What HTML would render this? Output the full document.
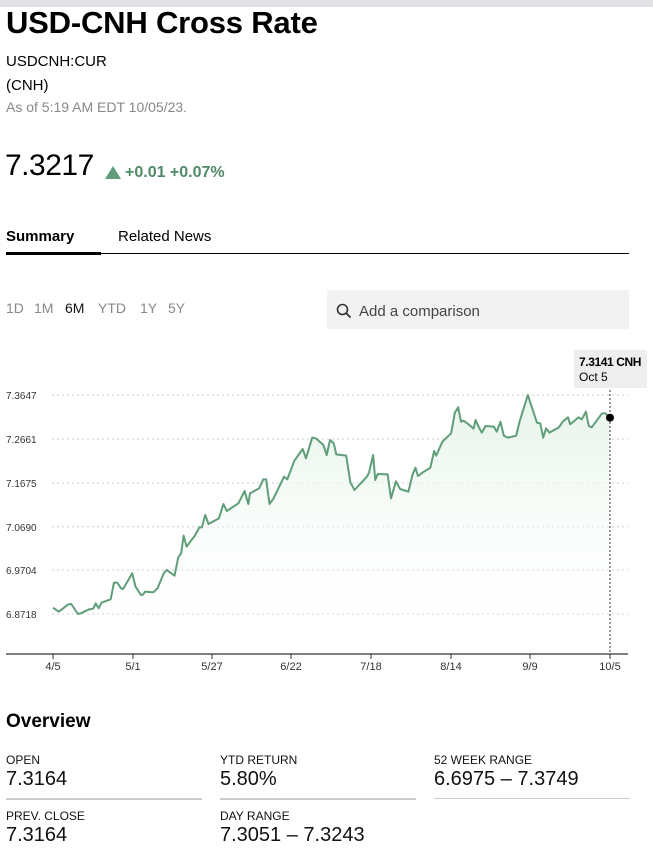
<!DOCTYPE html>
<html><head><meta charset="utf-8"><style>
body{margin:0;width:653px;height:848px;overflow:hidden;background:#fff;font-family:"Liberation Sans",sans-serif;color:#000;position:relative}
.a{position:absolute;white-space:nowrap}
.lab{font-size:12px;color:#111}
.val{font-size:20px;color:#111}
.rule{position:absolute;height:2px;background:#ccc}
</style></head><body>
<div class="a" style="left:0;top:0;width:653px;height:7px;background:#e2e2e6"></div>
<div class="a" style="left:6px;top:5px;font-size:31px;font-weight:bold;letter-spacing:-0.2px">USD-CNH Cross Rate</div>
<div class="a" style="left:6px;top:53px;font-size:15px">USDCNH:CUR</div>
<div class="a" style="left:6px;top:77px;font-size:15px">(CNH)</div>
<div class="a" style="left:6px;top:99px;font-size:14px;color:#888">As of 5:19 AM EDT 10/05/23.</div>
<div class="a" style="left:5px;top:149px;font-size:30px;letter-spacing:-0.5px">7.3217</div>
<div class="a" style="left:105px;top:166px;width:0;height:0;border-left:8px solid transparent;border-right:8px solid transparent;border-bottom:13px solid #5f9e78"></div>
<div class="a" style="left:125px;top:164px;font-size:16px;color:#4f8a66;font-weight:bold">+0.01 +0.07%</div>
<div class="a" style="left:6px;top:228px;font-size:15px;font-weight:bold">Summary</div>
<div class="a" style="left:118px;top:228px;font-size:15px">Related News</div>
<div class="a" style="left:6px;top:253px;width:623px;height:1px;background:#000"></div>
<div class="a" style="left:6px;top:252px;width:95px;height:3px;background:#000"></div>
<div class="a" style="left:6px;top:300px;font-size:14px;color:#888">1D</div>
<div class="a" style="left:34px;top:300px;font-size:14px;color:#888">1M</div>
<div class="a" style="left:65px;top:300px;font-size:14px;color:#111">6M</div>
<div class="a" style="left:98px;top:300px;font-size:14px;color:#888">YTD</div>
<div class="a" style="left:140px;top:300px;font-size:14px;color:#888">1Y</div>
<div class="a" style="left:168px;top:300px;font-size:14px;color:#888">5Y</div>
<div class="a" style="left:327px;top:290px;width:302px;height:39px;background:#f2f2f2"></div>
<svg class="a" style="left:336px;top:303px" width="16" height="16"><circle cx="6.5" cy="6.5" r="5" fill="none" stroke="#333" stroke-width="1.6"/><line x1="10" y1="10" x2="14.5" y2="14.5" stroke="#333" stroke-width="1.8"/></svg>
<div class="a" style="left:359px;top:303px;font-size:15px;color:#444">Add a comparison</div>

<svg class="a" style="left:0;top:340px" width="653" height="340">
<defs><linearGradient id="g" x1="0" y1="0" x2="0" y2="1"><stop offset="0" stop-color="#e6f4ea"/><stop offset="1" stop-color="#ffffff" stop-opacity="0"/></linearGradient></defs>
<g stroke="#ccc" stroke-dasharray="2,3" stroke-width="1">
<line x1="52" y1="55" x2="628" y2="55"/><line x1="52" y1="99" x2="628" y2="99"/><line x1="52" y1="143" x2="628" y2="143"/><line x1="52" y1="186.7" x2="628" y2="186.7"/><line x1="52" y1="230" x2="628" y2="230"/><line x1="52" y1="274" x2="628" y2="274"/>
</g>
<g font-size="10" fill="#333" font-family="Liberation Sans,sans-serif">
<text x="6" y="59">7.3647</text><text x="6" y="103">7.2661</text><text x="6" y="147">7.1675</text><text x="6" y="191">7.0690</text><text x="6" y="234">6.9704</text><text x="6" y="278">6.8718</text>
</g>
<g transform="matrix(0.4147,0,0,0.33333,2,0)">
<path fill="url(#g)" d="M123,803 L137,815 160,793 167,792 183,822 190,820 210,808 220,806 226,790 233,805 240,788 262,778 270,728 278,728 287,745 292,747 314,700 322,740 335,765 340,764 345,755 365,757 375,745 390,700 397,690 416,707 425,652 432,640 438,587 445,620 466,585 476,562 482,562 490,525 498,552 523,535 534,492 542,513 570,490 585,453 594,492 598,460 620,445 630,418 637,418 645,492 655,475 680,410 688,418 705,362 725,327 733,355 748,293 757,295 775,315 783,345 791,300 800,310 806,343 830,347 840,427 850,450 880,410 885,398 895,345 900,420 906,402 930,403 938,475 950,424 960,447 980,455 990,404 997,383 1003,408 1015,397 1033,383 1042,333 1047,347 1062,305 1083,280 1092,218 1100,202 1107,245 1113,242 1125,253 1137,266 1142,240 1150,262 1157,278 1166,258 1186,260 1193,275 1202,245 1210,287 1220,293 1240,287 1248,245 1268,165 1290,248 1298,250 1305,293 1312,265 1320,278 1343,262 1352,245 1365,232 1370,253 1390,232 1398,238 1408,215 1415,258 1422,262 1447,220 1455,220 1466,233 L1466,940 L123,940 Z"/>
<path fill="none" stroke="#5f9e78" stroke-width="2" vector-effect="non-scaling-stroke" stroke-linejoin="round" d="M123,803 L137,815 160,793 167,792 183,822 190,820 210,808 220,806 226,790 233,805 240,788 262,778 270,728 278,728 287,745 292,747 314,700 322,740 335,765 340,764 345,755 365,757 375,745 390,700 397,690 416,707 425,652 432,640 438,587 445,620 466,585 476,562 482,562 490,525 498,552 523,535 534,492 542,513 570,490 585,453 594,492 598,460 620,445 630,418 637,418 645,492 655,475 680,410 688,418 705,362 725,327 733,355 748,293 757,295 775,315 783,345 791,300 800,310 806,343 830,347 840,427 850,450 880,410 885,398 895,345 900,420 906,402 930,403 938,475 950,424 960,447 980,455 990,404 997,383 1003,408 1015,397 1033,383 1042,333 1047,347 1062,305 1083,280 1092,218 1100,202 1107,245 1113,242 1125,253 1137,266 1142,240 1150,262 1157,278 1166,258 1186,260 1193,275 1202,245 1210,287 1220,293 1240,287 1248,245 1268,165 1290,248 1298,250 1305,293 1312,265 1320,278 1343,262 1352,245 1365,232 1370,253 1390,232 1398,238 1408,215 1415,258 1422,262 1447,220 1455,220 1466,233"/>
</g>
<line x1="610" y1="46" x2="610" y2="314" stroke="#333" stroke-dasharray="2,2"/>
<circle cx="610" cy="77.7" r="4" fill="#000"/>
<line x1="6" y1="314" x2="628" y2="314" stroke="#333" stroke-width="1.2"/>
<g stroke="#333"><line x1="53" y1="314" x2="53" y2="319"/><line x1="133" y1="314" x2="133" y2="319"/><line x1="212" y1="314" x2="212" y2="319"/><line x1="291" y1="314" x2="291" y2="319"/><line x1="371" y1="314" x2="371" y2="319"/><line x1="451" y1="314" x2="451" y2="319"/><line x1="530" y1="314" x2="530" y2="319"/><line x1="610" y1="314" x2="610" y2="319"/></g>
<g font-size="11" fill="#333" text-anchor="middle" font-family="Liberation Sans,sans-serif">
<text x="53" y="330">4/5</text><text x="133" y="330">5/1</text><text x="212" y="330">5/27</text><text x="291" y="330">6/22</text><text x="371" y="330">7/18</text><text x="451" y="330">8/14</text><text x="530" y="330">9/9</text><text x="610" y="330">10/5</text>
</g>
<rect x="574" y="10" width="73" height="38" fill="#eee"/>
<text x="579" y="26" font-size="12" font-weight="bold" font-family="Liberation Sans,sans-serif" letter-spacing="-0.4">7.3141 CNH</text>
<text x="579" y="41" font-size="12" font-family="Liberation Sans,sans-serif">Oct 5</text>
</svg>

<div class="a" style="left:6px;top:711px;font-size:19px;font-weight:bold">Overview</div>
<div class="a lab" style="left:6px;top:753px">OPEN</div>
<div class="a val" style="left:6px;top:768px">7.3164</div>
<div class="rule" style="left:6px;top:798px;width:196px"></div>
<div class="a lab" style="left:220px;top:753px">YTD RETURN</div>
<div class="a val" style="left:220px;top:768px">5.80%</div>
<div class="rule" style="left:220px;top:798px;width:196px"></div>
<div class="a lab" style="left:434px;top:753px">52 WEEK RANGE</div>
<div class="a val" style="left:434px;top:768px">6.6975 – 7.3749</div>
<div class="a" style="left:434px;top:798px;width:196px;height:1px;background:#ccc"></div>
<div class="a lab" style="left:6px;top:809px">PREV. CLOSE</div>
<div class="a val" style="left:6px;top:824px">7.3164</div>
<div class="a lab" style="left:220px;top:809px">DAY RANGE</div>
<div class="a val" style="left:220px;top:824px">7.3051 – 7.3243</div>
</body></html>
